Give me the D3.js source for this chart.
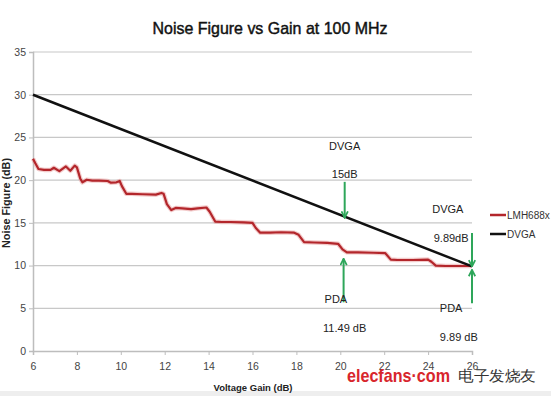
<!DOCTYPE html>
<html><head><meta charset="utf-8">
<script src="https://cdn.jsdelivr.net/npm/d3@7"></script>
<style>body{margin:0;background:#fff}svg{display:block}text{font-family:"Liberation Sans",Arial,sans-serif}</style>
</head><body>
<script>
const title = "Noise Figure vs Gain at 100 MHz";
const xTicks = [6, 8, 10, 12, 14, 16, 18, 20, 22, 24, 26];
const yTicks = [0, 5, 10, 15, 20, 25, 30, 35];
const dvgaX = [6, 26];
const dvgaY = [30, 9.9];
const lmhX = [6.0,6.1,6.25,6.5,6.8,6.95,7.2,7.5,7.7,7.9,8.0,8.15,8.25,8.45,8.7,9.0,9.4,9.55,9.8,9.95,10.05,10.25,10.5,11.0,11.6,11.85,11.95,12.1,12.3,12.5,12.8,13.2,13.5,13.9,14.05,14.3,14.6,15.0,15.6,16.0,16.15,16.35,16.8,17.3,17.9,18.1,18.35,18.8,19.4,19.9,20.1,20.3,20.8,21.5,22.05,22.3,22.6,23.3,24.0,24.15,24.35,24.8,25.4,26.0];
const lmhY = [22.5,22.0,21.3,21.2,21.2,21.45,21.05,21.6,21.1,21.7,21.5,20.2,19.75,20.05,19.95,19.95,19.9,19.7,19.75,19.9,19.3,18.4,18.4,18.35,18.3,18.5,18.4,17.2,16.5,16.75,16.7,16.6,16.7,16.8,16.3,15.15,15.1,15.1,15.05,15.0,14.4,13.85,13.85,13.9,13.85,13.6,12.75,12.7,12.65,12.55,11.9,11.55,11.55,11.5,11.45,10.7,10.65,10.65,10.7,10.45,10.0,9.95,9.95,9.95];
const seriesNames = ["LMH688x", "DVGA"];
// annotations (data units)
const arrowX = [20.2, 20.15, 26, 26];
const arrowFrom = [19.8, 5.7, 13.8, 5.6];
const arrowTo = [15.6, 10.8, 9.9, 9.5];
const labelText = ["DVGA", "15dB", "PDA", "11.49 dB", "DVGA", "9.89dB", "PDA", "9.89 dB"];
const labelX = [20.2, 20.2, 19.8, 20.2, 24.9, 25.05, 25.05, 25.4];
const labelY = [23.5, 20.2, 5.6, 2.2, 16.1, 12.75, 4.55, 1.15];

const W = 551, H = 396;
const svg = d3.select("body").append("svg").attr("width", W).attr("height", H);
const x = d3.scaleLinear().domain([6, 26]).range([33, 472]);
const y = d3.scaleLinear().domain([0, 35]).range([351, 52]);

svg.append("rect").attr("x",0).attr("y",391).attr("width",W).attr("height",5).attr("fill","#eeeeee");

svg.append("text").attr("x", 270).attr("y", 34).attr("text-anchor","middle")
  .attr("font-size", 17).attr("fill","#111").attr("stroke","#111").attr("stroke-width",0.45)
  .attr("textLength",235).attr("lengthAdjust","spacingAndGlyphs").text(title);

// grid
svg.append("g").selectAll("line").data(yTicks.filter(d=>d>0)).join("line")
  .attr("x1", x(6)).attr("x2", x(26)).attr("y1", d=>y(d)).attr("y2", d=>y(d))
  .attr("stroke","#c8c8c8").attr("stroke-width",1.2);

const yAxis = svg.append("g").attr("transform",`translate(${x(6)},0)`)
  .call(d3.axisLeft(y).tickValues(yTicks).tickSize(4).tickPadding(3));
const xAxis = svg.append("g").attr("transform",`translate(0,${y(0)})`)
  .call(d3.axisBottom(x).tickValues(xTicks).tickSize(4).tickPadding(8));
[yAxis, xAxis].forEach(a => {
  a.select(".domain").attr("stroke","#bdbdbd").attr("stroke-width",1.5);
  a.selectAll(".tick line").attr("stroke","#bdbdbd");
  a.selectAll(".tick text").attr("fill","#444").attr("font-size",10.5).attr("font-family","Liberation Sans Narrow, Liberation Sans, Arial");
});

svg.append("text").attr("transform",`translate(10,203) rotate(-90)`).attr("text-anchor","middle")
  .attr("font-size",10.5).attr("font-weight","bold").attr("fill","#222")
  .attr("textLength",90).attr("lengthAdjust","spacingAndGlyphs").text("Noise Figure (dB)");
svg.append("text").attr("x",253).attr("y",391).attr("text-anchor","middle")
  .attr("font-size",9.5).attr("font-weight","bold").attr("fill","#222").text("Voltage Gain (dB)");

const line = d3.line().x(d=>x(d[0])).y(d=>y(d[1]));
const lmh = d3.zip(lmhX, lmhY);
svg.append("path").datum(lmh).attr("d", line).attr("fill","none").attr("stroke","#e89a9a").attr("stroke-width",4.5).attr("stroke-opacity",0.5).attr("stroke-linejoin","round");
svg.append("path").datum(lmh).attr("d", line).attr("fill","none").attr("stroke","#b3262b").attr("stroke-width",2.2).attr("stroke-linejoin","round");
svg.append("path").datum(d3.zip(dvgaX, dvgaY)).attr("d", line).attr("fill","none").attr("stroke","#111").attr("stroke-width",2.5);

// arrows
const green = "#2ea65a";
svg.append("defs").append("marker").attr("id","ah").attr("viewBox","0 0 10 10").attr("refX",9).attr("refY",5)
  .attr("markerWidth",4).attr("markerHeight",4).attr("orient","auto")
  .append("path").attr("d","M1,1 L9,5 L1,9").attr("fill","none").attr("stroke",green).attr("stroke-width",2.2);
svg.append("g").selectAll("line").data(arrowX).join("line")
  .attr("x1",d=>x(d)).attr("x2",d=>x(d)).attr("y1",(d,i)=>y(arrowFrom[i])).attr("y2",(d,i)=>y(arrowTo[i]))
  .attr("stroke",green).attr("stroke-width",2).attr("marker-end","url(#ah)");

svg.append("g").selectAll("text").data(labelText).join("text")
  .attr("x",(d,i)=>x(labelX[i])).attr("y",(d,i)=>y(labelY[i])).attr("text-anchor","middle")
  .attr("font-size",11).attr("fill","#222").text(d=>d);

// legend
const lg = svg.append("g");
const lColors = ["#b3262b", "#111"];
seriesNames.forEach((n,i)=>{
  lg.append("line").attr("x1",490).attr("x2",506).attr("y1",215+i*19).attr("y2",215+i*19).attr("stroke",lColors[i]).attr("stroke-width",2.5);
  lg.append("text").attr("x",507).attr("y",219+i*19).attr("font-size",10).attr("fill","#333").text(n);
});

// watermark
svg.append("text").attr("x",347).attr("y",382).attr("font-size",19).attr("font-weight","bold").attr("fill","#d8262c")
  .attr("textLength",103).attr("lengthAdjust","spacingAndGlyphs").text("elecfans·com");
svg.append("text").attr("x",458).attr("y",381).attr("font-size",15).attr("fill","#333")
  .attr("font-family","Noto Sans CJK SC").attr("textLength",78).attr("lengthAdjust","spacingAndGlyphs").text("电子发烧友");
</script>
</body></html>
